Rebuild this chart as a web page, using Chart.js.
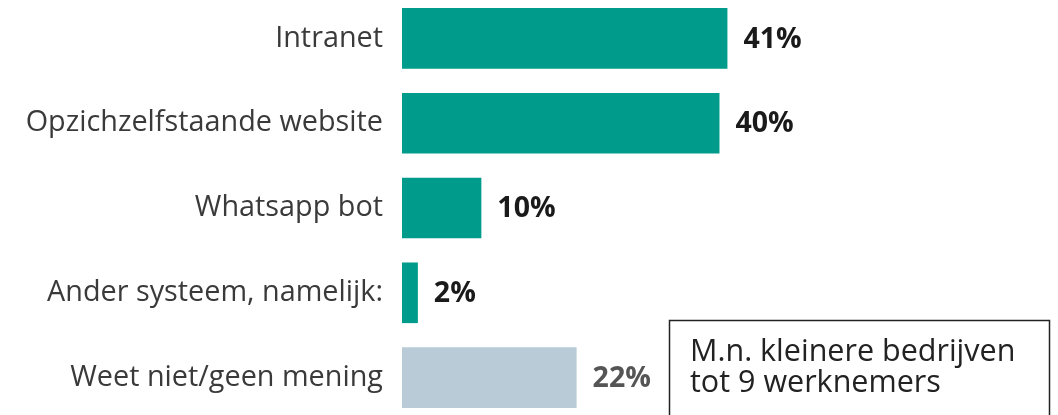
<!DOCTYPE html>
<html>
<head>
<meta charset="utf-8">
<script src="https://cdn.jsdelivr.net/npm/chart.js@4.4.1/dist/chart.umd.min.js"></script>
<style>
  html, body { margin: 0; padding: 0; background: #fff; overflow: hidden; }
  #wrap { position: absolute; left: 0; top: -4px; width: 1058px; height: 424px; }
</style>
</head>
<body>
<div id="wrap"><canvas id="grafico"></canvas></div>
<script>
// categorieën en percentages
const categorieen = [
  "Intranet",
  "Opzichzelfstaande website",
  "Whatsapp bot",
  "Ander systeem, namelijk:",
  "Weet niet/geen mening"
];
const percentages = [41, 40, 10, 2, 22];
const kleuren = ["#009b8a", "#009b8a", "#009b8a", "#009b8a", "#b9cbd7"];
const labelKleuren = ["#1a1a1a", "#1a1a1a", "#1a1a1a", "#1a1a1a", "#555555"];
const notitieRegels = ["M.n. kleinere bedrijven", "tot 9 werknemers"];

const FONT = "'Open Sans', 'Noto Sans', sans-serif";

// waarde achter elke balk
const waardeLabels = {
  id: "waardeLabels",
  afterDatasetsDraw(chart) {
    const ctx = chart.ctx;
    const meta = chart.getDatasetMeta(0);
    ctx.save();
    ctx.font = "bold 28.5px " + FONT;
    ctx.textBaseline = "middle";
    ctx.textAlign = "left";
    meta.data.forEach((bar, i) => {
      ctx.fillStyle = labelKleuren[i];
      ctx.fillText(percentages[i] + "%", bar.x + 16, bar.y + 1);
    });
    ctx.restore();
  }
};

// kader met toelichting rechtsonder
const notitie = {
  id: "notitie",
  afterDraw(chart) {
    const ctx = chart.ctx;
    ctx.save();
    ctx.fillStyle = "#fff";
    ctx.strokeStyle = "#222";
    ctx.lineWidth = 1.5;
    ctx.fillRect(669, 324, 380, 120);
    ctx.strokeRect(669.5, 324.5, 380, 120);
    ctx.fillStyle = "#222";
    ctx.font = "30.5px " + FONT;
    ctx.textBaseline = "alphabetic";
    ctx.fillText(notitieRegels[0], 690, 365);
    ctx.fillText(notitieRegels[1], 690, 396);
    ctx.restore();
  }
};

new Chart(document.getElementById("grafico"), {
  type: "bar",
  data: {
    labels: categorieen,
    datasets: [{
      data: percentages,
      backgroundColor: kleuren,
      borderWidth: 0,
      categoryPercentage: 1,
      barPercentage: 0.715
    }]
  },
  options: {
    indexAxis: "y",
    responsive: true,
    maintainAspectRatio: false,
    animation: false,
    layout: { padding: 0 },
    plugins: {
      legend: { display: false },
      tooltip: { enabled: false }
    },
    scales: {
      x: {
        display: false,
        min: 0,
        max: 82.65
      },
      y: {
        grid: { display: false, drawTicks: false },
        border: { display: false },
        ticks: {
          color: "#3a3a3a",
          font: { family: FONT, size: 28.8 },
          padding: 19
        },
        afterFit(scale) {
          scale.width = 402;
          scale.paddingTop = 0;
          scale.paddingBottom = 0;
        }
      }
    }
  },
  plugins: [waardeLabels, notitie]
});
</script>
</body>
</html>
